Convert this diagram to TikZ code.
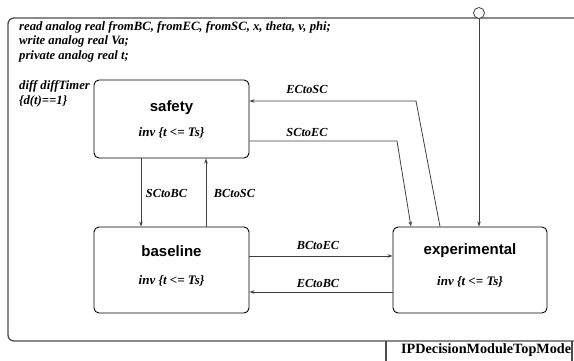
\documentclass[tikz,border=0pt]{standalone}
\usepackage{fontspec}
\setmainfont{Liberation Serif}
\newfontfamily\statefont{Liberation Sans}
\usetikzlibrary{arrows.meta}
\tikzset{
  statebox/.style={draw=black, line width=0.9pt, rounded corners=5pt, minimum width=155pt, inner sep=0pt},
  title/.style={font=\statefont\bfseries\fontsize{15}{17}\selectfont, inner sep=0pt},
  inv/.style={font=\bfseries\itshape\fontsize{13}{15}\selectfont, inner sep=0pt},
  elabel/.style={font=\bfseries\itshape\fontsize{12.3}{14}\selectfont, inner sep=0pt},
  decl/.style={font=\bfseries\itshape\fontsize{12.7}{14.5}\selectfont, inner sep=0pt, anchor=north west, align=left},
  conn/.style={draw=black!75, line width=0.8pt},
  arr/.style={conn, -{Stealth[length=5pt,width=3.5pt]}},
  frame/.style={draw=black!70, line width=1.3pt}
}
\begin{document}
\begin{tikzpicture}[x=1pt,y=-1pt]
\useasboundingbox (0,0) rectangle (574,360);
% outer frame
\draw[frame, rounded corners=6pt] (580,18) -- (8,18) -- (8,341) -- (580,341);
\draw[frame] (386,341) -- (386,362);
\draw[frame] (572,341) -- (572,362);
\node[font=\bfseries\fontsize{14.2}{16}\selectfont, anchor=west, inner sep=0pt] (modname) at (401,350.5) {IPDecisionModuleTopMode};
% declarations
\node[decl] (decls) at (19,21) {read analog real fromBC, fromEC, fromSC, x, theta, v, phi;\\write analog real Va;\\private analog real t;};
\node[decl] (diff) at (19,80.5) {diff diffTimer\\\{d(t)==1\}};
% states
\node[statebox, minimum height=78pt] (safety) at (171.5,119) {};
\node[statebox, minimum height=86pt] (baseline) at (171.5,270) {};
\node[statebox, minimum width=154pt, minimum height=86pt] (experimental) at (470,270) {};
\node[title] (tsafety) at (171.5,108) {safety};
\node[inv] (isafety) at (171.5,133) {inv \{t <= Ts\}};
\node[title] (tbaseline) at (171.5,251) {baseline};
\node[inv] (ibaseline) at (171.5,281) {inv \{t <= Ts\}};
\node[title] (texp) at (470,251) {experimental};
\node[inv] (iexp) at (470,282) {inv \{t <= Ts\}};
% initial
\node[draw=black!75, line width=0.8pt, circle, minimum size=11pt, inner sep=0pt, fill=white] (init) at (479,13) {};
\draw[arr] (init.south) -- (experimental.north -| init);
% helper coordinates
\coordinate (c1) at (141,0);
\coordinate (c2) at (206,0);
\coordinate (k1) at (416,101);
\coordinate (e1) at (440,0);
\coordinate (k2) at (397,141);
\coordinate (e2) at (411,0);
\coordinate (h1) at (0,256);
\coordinate (h2) at (0,292);
% transitions
\draw[arr] (safety.south -| c1) -- (baseline.north -| c1);
\draw[arr] (baseline.north -| c2) -- (safety.south -| c2);
\draw[arr] (experimental.north -| e1) -- (k1) -- (safety.east |- k1);
\draw[arr] (safety.east |- k2) -- (k2) -- (experimental.north -| e2);
\draw[arr] (baseline.east |- h1) -- (experimental.west |- h1);
\draw[arr] (experimental.west |- h2) -- (baseline.east |- h2);
% labels
\node[elabel] (lsb) at (166.5,193) {SCtoBC};
\node[elabel] (lbs) at (234.5,193) {BCtoSC};
\node[elabel] (les) at (307,89) {ECtoSC};
\node[elabel] (lse) at (307,132) {SCtoEC};
\node[elabel] (lbe) at (318,245) {BCtoEC};
\node[elabel] (leb) at (318,283) {ECtoBC};
\end{tikzpicture}
\end{document}
